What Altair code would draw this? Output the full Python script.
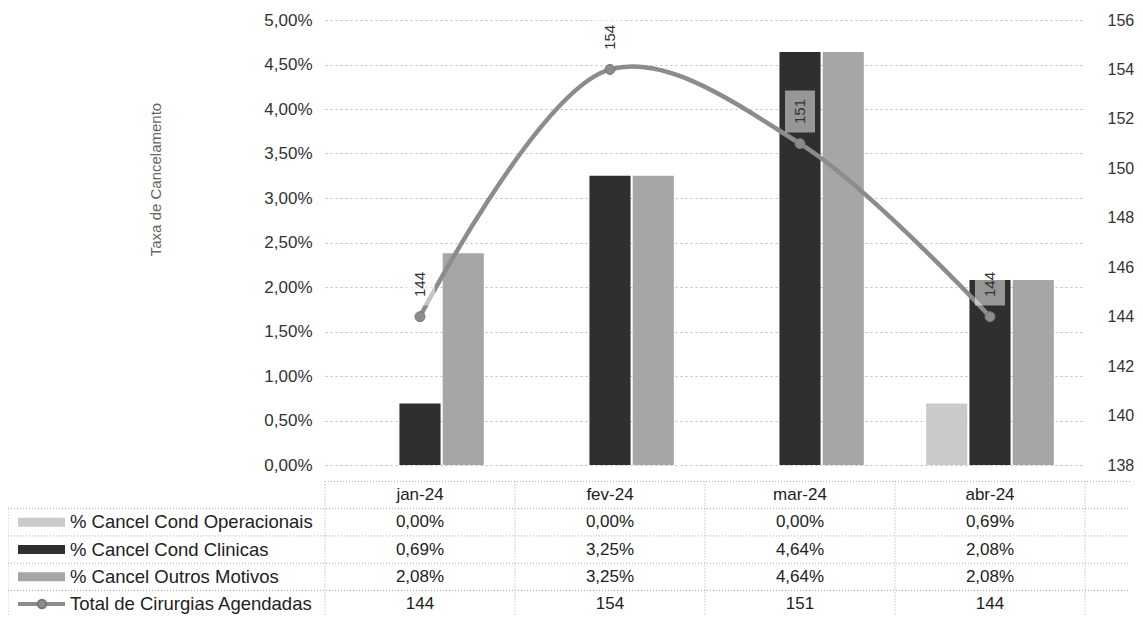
import altair as alt
import pandas as pd

FONT = "Liberation Sans"

months = ["jan-24", "fev-24", "mar-24", "abr-24"]
series = ["% Cancel Cond Operacionais", "% Cancel Cond Clinicas", "% Cancel Outros Motivos"]
line_name = "Total de Cirurgias Agendadas"

# bar heights as drawn
cancel_operacionais = [0.0000, 0.0000, 0.0000, 0.0069]
cancel_clinicas = [0.0069, 0.0325, 0.0464, 0.0208]
cancel_outros = [0.0238, 0.0325, 0.0464, 0.0208]
total_cirurgias = [144, 154, 151, 144]

# data table texts as printed
tab_operacionais = ["0,00%", "0,00%", "0,00%", "0,69%"]
tab_clinicas = ["0,69%", "3,25%", "4,64%", "2,08%"]
tab_outros = ["2,08%", "3,25%", "4,64%", "2,08%"]
tab_total = ["144", "154", "151", "144"]

left_ticks = [0, 0.005, 0.01, 0.015, 0.02, 0.025, 0.03, 0.035, 0.04, 0.045, 0.05]
right_ticks = [138, 140, 142, 144, 146, 148, 150, 152, 154, 156]

bar_colors = ["#cacaca", "#2f2f2f", "#a6a6a6"]
line_color = "#8c8c8c"

W, H = 760, 445

# ---------- data frames ----------
bars_df = pd.DataFrame({
    "month": months * 3,
    "serie": [s for s in series for _ in months],
    "valor": cancel_operacionais + cancel_clinicas + cancel_outros,
})
line_df = pd.DataFrame({"month": months, "total": total_cirurgias})

table_cols = [tab_operacionais, tab_clinicas, tab_outros, tab_total]
tab_rows = []
for i, m in enumerate(months):
    tab_rows.append({"month": m, "row": 0, "txt": m})
    for r, col in enumerate(table_cols):
        tab_rows.append({"month": m, "row": r + 1, "txt": col[i]})
table_df = pd.DataFrame(tab_rows)

row_names_df = pd.DataFrame({"row": [1, 2, 3, 4], "name": series + [line_name]})
swatch_df = pd.DataFrame({"row": [1, 2, 3], "serie": series})
line_sw_df = pd.DataFrame({"row": [4]})

hlines_df = pd.DataFrame({"pos": [0.5, 1.5, 2.5, 3.5]})
top_line_df = pd.DataFrame({"pos": [-0.5]})
vlines_df = pd.DataFrame({"month": months, "a": [-0.5] * 4, "b": [4.6] * 4})
vright_df = pd.DataFrame({"month": [months[-1]], "a": [-0.5], "b": [4.6]})
vleft_df = pd.DataFrame({"a": [0.5], "b": [4.6]})

# ---------- shared encodings ----------
X = alt.X("month:N", sort=months, scale=alt.Scale(domain=months, paddingInner=0, paddingOuter=0), axis=None)
line_scale = alt.Scale(domain=[138, 156])
row_scale = alt.Scale(domain=[0, 4], range=[475, 584])
color_scale = alt.Scale(domain=series, range=bar_colors)
dot = dict(color="#a8a8a8", strokeDash=[1, 2], strokeWidth=1)

bars = alt.Chart(bars_df).mark_bar().encode(
    x=X,
    xOffset=alt.XOffset("serie:N", sort=series,
                        scale=alt.Scale(domain=series, paddingInner=0.05, paddingOuter=0.72)),
    y=alt.Y("valor:Q", scale=alt.Scale(domain=[0, 0.05]),
            axis=alt.Axis(orient="left", values=left_ticks,
                          labelExpr="replace(format(datum.value, '.2%'), '.', ',')",
                          title="Taxa de Cancelamento", titleX=-170, titleY=159,
                          titleBaseline="middle", titleFontSize=15, titleFontWeight="normal",
                          titleColor="#666", titleFont=FONT,
                          labelFont=FONT, labelFontSize=17, labelColor="#333", labelPadding=13,
                          domain=False, ticks=False, grid=True, gridColor="#bdbdbd",
                          gridDash=[2, 3], gridWidth=1)),
    color=alt.Color("serie:N", scale=color_scale, legend=None),
)

line = alt.Chart(line_df).mark_line(interpolate="catmull-rom", color=line_color, strokeWidth=4.5).encode(
    x=X,
    y=alt.Y("total:Q", scale=line_scale,
            axis=alt.Axis(orient="right", values=right_ticks, labelFont=FONT, labelFontSize=16,
                          labelColor="#333", labelPadding=22, domain=False, ticks=False,
                          grid=False, title=None)),
)

points = alt.Chart(line_df).mark_point(shape="circle", filled=True, size=100, color=line_color,
                                       stroke="#777", strokeWidth=1, opacity=1).encode(
    x=X, y=alt.Y("total:Q", scale=line_scale, axis=None))

boxes = alt.Chart(line_df).transform_calculate(
    lo="datum.total + 0.45", hi="datum.total + 2.15"
).mark_bar(width=30, color="white", opacity=0.5).encode(
    x=X, y=alt.Y("lo:Q", scale=line_scale, axis=None), y2="hi:Q")

labels = alt.Chart(line_df).transform_calculate(ly="datum.total + 1.3").mark_text(
    angle=270, font=FONT, fontSize=15, color="#333", baseline="middle", align="center"
).encode(x=X, y=alt.Y("ly:Q", scale=line_scale, axis=None), text="total:Q")

# ---------- data table ----------
table_text = alt.Chart(table_df).mark_text(font=FONT, fontSize=17, color="#222", baseline="middle").encode(
    x=X, y=alt.Y("row:Q", scale=row_scale, axis=None), text="txt:N")

row_names = alt.Chart(row_names_df).mark_text(font=FONT, fontSize=18.5, color="#222", align="left",
                                              baseline="middle").encode(
    x=alt.value(-255), y=alt.Y("row:Q", scale=row_scale, axis=None), text="name:N")

swatches = alt.Chart(swatch_df).mark_rule(strokeWidth=9, strokeCap="butt").encode(
    x=alt.value(-307), x2=alt.value(-260), y=alt.Y("row:Q", scale=row_scale, axis=None),
    color=alt.Color("serie:N", scale=color_scale, legend=None))

line_sw = alt.Chart(line_sw_df).mark_rule(strokeWidth=4, color=line_color).encode(
    x=alt.value(-307), x2=alt.value(-260), y=alt.Y("row:Q", scale=row_scale, axis=None))
line_sw_pt = alt.Chart(line_sw_df).mark_point(shape="circle", filled=True, size=70, color=line_color,
                                               stroke="#777", opacity=1).encode(
    x=alt.value(-283), y=alt.Y("row:Q", scale=row_scale, axis=None))

hlines = alt.Chart(hlines_df).mark_rule(**dot).encode(
    x=alt.value(-317), x2=alt.value(805), y=alt.Y("pos:Q", scale=row_scale, axis=None))
top_line = alt.Chart(top_line_df).mark_rule(**dot).encode(
    x=alt.value(0), x2=alt.value(805), y=alt.Y("pos:Q", scale=row_scale, axis=None))
vlines = alt.Chart(vlines_df).mark_rule(**dot).encode(
    x=alt.X("month:N", sort=months, bandPosition=0, scale=alt.Scale(domain=months, paddingInner=0, paddingOuter=0), axis=None),
    y=alt.Y("a:Q", scale=row_scale, axis=None), y2="b:Q")
vright = alt.Chart(vright_df).mark_rule(**dot).encode(
    x=alt.X("month:N", sort=months, bandPosition=1, scale=alt.Scale(domain=months, paddingInner=0, paddingOuter=0), axis=None),
    y=alt.Y("a:Q", scale=row_scale, axis=None), y2="b:Q")
vleft = alt.Chart(vleft_df).mark_rule(**dot).encode(
    x=alt.value(-317), y=alt.Y("a:Q", scale=row_scale, axis=None), y2="b:Q")

chart = alt.layer(
    bars, line, points, boxes, labels,
    hlines, top_line, vlines, vright, vleft,
    swatches, line_sw, line_sw_pt, row_names, table_text,
).resolve_scale(y="independent").properties(
    width=W, height=H,
    autosize=alt.AutoSizeParams(type="none"),
    padding={"left": 317, "top": 12, "right": 50, "bottom": 150},
    background="white",
).configure_view(stroke=None)

chart.save("out.html", embed_options={"renderer": "svg", "actions": False})
